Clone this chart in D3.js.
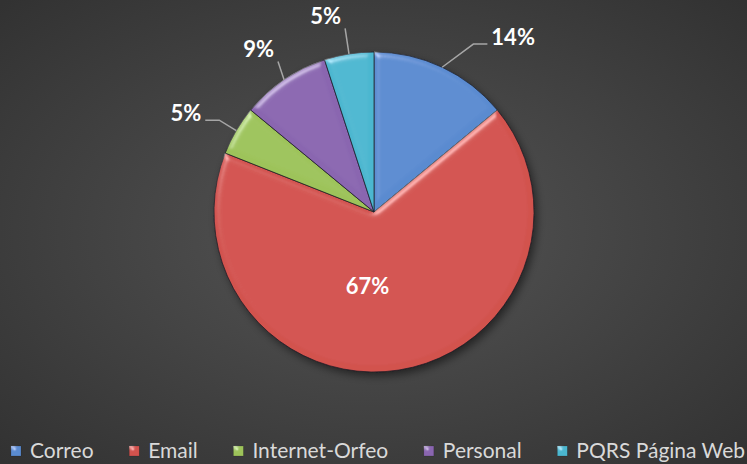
<!DOCTYPE html>
<html>
<head>
<meta charset="utf-8">
<script src="https://cdn.jsdelivr.net/npm/d3@7"></script>
<style>
html, body { margin: 0; padding: 0; background: #3a3a3a; }
svg { display: block; }
</style>
</head>
<body>
<div id="chart"></div>
<script>
// data (percent of total)
var categories = ['Correo', 'Email', 'Internet-Orfeo', 'Personal', 'PQRS Página Web'];
var values = [14, 67, 5, 9, 5];
var labels = ['14%', '67%', '5%', '9%', '5%'];
var colors = ['#5a8bd0', '#d2524e', '#9dc35a', '#8a66b0', '#4cb7d0'];

var width = 747, height = 464;
var cx = 374, cy = 212, radius = 160;

var svg = d3.select('#chart').append('svg')
    .attr('width', width)
    .attr('height', height);

var defs = svg.append('defs');

// background glow
var bg = defs.append('radialGradient').attr('id', 'bg')
    .attr('cx', '50%').attr('cy', '50%').attr('r', '70%');
bg.append('stop').attr('offset', '0%').attr('stop-color', '#555555');
bg.append('stop').attr('offset', '100%').attr('stop-color', '#323232');

// soft bevel on every slice
var bevel = defs.append('filter').attr('id', 'bevel')
    .attr('x', '-10%').attr('y', '-10%').attr('width', '120%').attr('height', '120%');
bevel.append('feGaussianBlur').attr('in', 'SourceAlpha').attr('stdDeviation', 3).attr('result', 'blur');
bevel.append('feSpecularLighting')
    .attr('in', 'blur').attr('surfaceScale', 3.5).attr('specularConstant', 0.6)
    .attr('specularExponent', 28).attr('lighting-color', '#ffffff').attr('result', 'spec')
    .append('feDistantLight').attr('azimuth', 235).attr('elevation', 35);
bevel.append('feComposite').attr('in', 'spec').attr('in2', 'SourceAlpha')
    .attr('operator', 'in').attr('result', 'specOut');
bevel.append('feComposite').attr('in', 'SourceGraphic').attr('in2', 'specOut')
    .attr('operator', 'arithmetic').attr('k1', 0).attr('k2', 1).attr('k3', 0.55).attr('k4', 0);

var shadow = defs.append('filter').attr('id', 'shadow')
    .attr('x', '-20%').attr('y', '-20%').attr('width', '140%').attr('height', '140%');
shadow.append('feGaussianBlur').attr('stdDeviation', 4);

svg.append('rect')
    .attr('width', width)
    .attr('height', height)
    .attr('fill', 'url(#bg)');

var pie = d3.pie().sort(null).value(function(d) { return d; });
var arcs = pie(values);
var arc = d3.arc().innerRadius(0).outerRadius(radius);

var stage = svg.append('g')
    .attr('class', 'pie')
    .attr('transform', 'translate(' + cx + ',' + cy + ')');

stage.append('circle')
    .attr('cx', 3).attr('cy', 4).attr('r', radius)
    .attr('fill', 'rgba(0,0,0,0.5)')
    .attr('filter', 'url(#shadow)');

stage.selectAll('path.slice')
    .data(arcs)
    .enter().append('path')
    .attr('class', 'slice')
    .attr('d', arc)
    .attr('fill', function(d, i) { return colors[i]; })
    .attr('stroke', 'rgba(25,25,35,0.7)')
    .attr('stroke-width', 1)
    .attr('filter', 'url(#bevel)');

// labels: big slice inside, small ones outside with leader lines
var labelFont = 'Lato, "Open Sans", sans-serif';
var inner = d3.arc().innerRadius(0).outerRadius(radius);
var outer = d3.arc().innerRadius(radius * 1.25).outerRadius(radius * 1.25);
var nudge = [[54, 6], [-19, -5], [-16, 3], [-3, 3], [-17, 2]];

arcs.forEach(function(d, i) {
    if (d.data > 50) {
        var c = inner.centroid(d);
        stage.append('text')
            .attr('x', c[0] + nudge[i][0]).attr('y', c[1] + nudge[i][1])
            .attr('dy', '0.35em')
            .attr('text-anchor', 'middle')
            .attr('fill', '#ffffff')
            .attr('font-family', labelFont)
            .attr('font-weight', 'bold')
            .attr('font-size', 22)
            .text(labels[i]);
        return;
    }
    var c = outer.centroid(d);
    var lx = c[0] + nudge[i][0], ly = c[1] + nudge[i][1];
    var t = stage.append('text')
        .attr('x', lx).attr('y', ly)
        .attr('dy', '0.35em')
        .attr('text-anchor', 'middle')
        .attr('fill', '#ffffff')
        .attr('font-family', labelFont)
        .attr('font-weight', 'bold')
        .attr('font-size', 22)
        .text(labels[i]);
    var w = t.node().getComputedTextLength();
    var x0 = lx - w / 2 - 4, x1 = lx + w / 2 + 4;
    var y0 = ly - 13, y1 = ly + 12;
    var mid = (d.startAngle + d.endAngle) / 2;
    var ex = Math.sin(mid) * radius, ey = -Math.cos(mid) * radius;
    var px = Math.max(x0, Math.min(x1, ex));
    var py = Math.max(y0, Math.min(y1, ey));
    var pts;
    if (Math.abs(ex - px) > Math.abs(ey - py)) {
        var side = ex > px ? 1 : -1;
        py = Math.min(ey, ly + 7);
        pts = [[ex, ey], [px + side * 14, py], [px, py]];
    } else {
        pts = [[ex, ey], [px, py]];
    }
    stage.append('path')
        .attr('d', d3.line()(pts))
        .attr('fill', 'none')
        .attr('stroke', '#a6a6a6')
        .attr('stroke-width', 1.5);
});

// legend
var legend = svg.append('g').attr('class', 'legend')
    .attr('transform', 'translate(0,451)');
var items = legend.selectAll('g')
    .data(categories)
    .enter().append('g');
items.append('rect')
    .attr('width', 10).attr('height', 10)
    .attr('y', -5)
    .attr('fill', function(d, i) { return colors[i]; })
    .attr('stroke', 'rgba(0,0,0,0.3)')
    .attr('stroke-width', 0.5)
    .attr('filter', 'url(#bevel)');
items.append('text')
    .attr('x', 19)
    .attr('dy', '0.35em')
    .attr('fill', '#d9d9d9')
    .attr('font-family', labelFont)
    .attr('font-size', 21)
    .text(function(d) { return d; });

// spread items between the left and right margins
var widths = [];
items.each(function() { widths.push(19 + d3.select(this).select('text').node().getComputedTextLength()); });
var left = 11, right = 745;
var gap = (right - left - d3.sum(widths)) / (categories.length - 1);
var x = left;
items.attr('transform', function(d, i) {
    var tx = x;
    x += widths[i] + gap;
    return 'translate(' + tx + ',0)';
});
</script>
</body>
</html>
